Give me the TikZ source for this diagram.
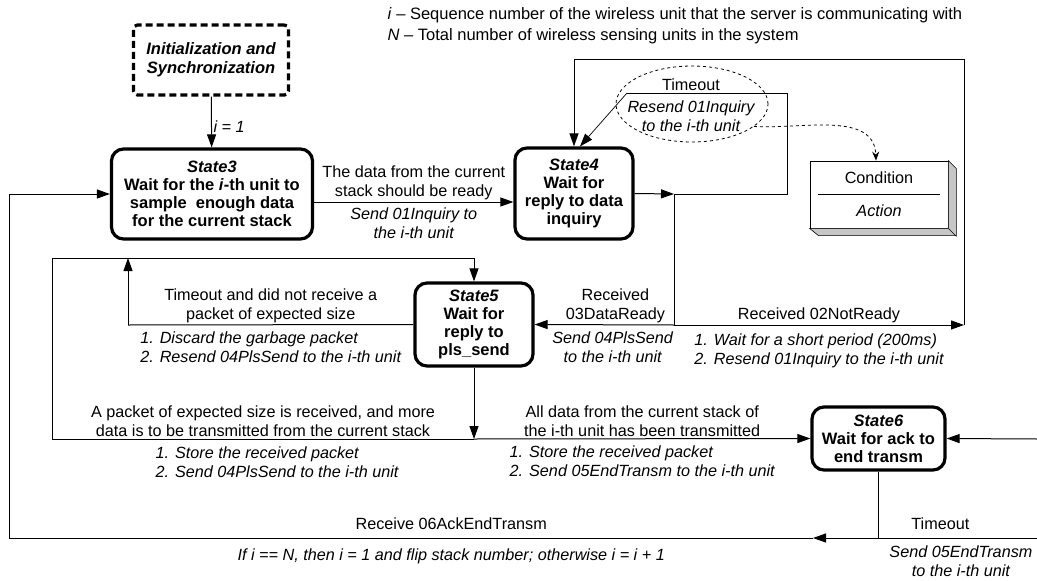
\documentclass[tikz,border=0pt]{standalone}
\usepackage{fontspec}
\setmainfont{Liberation Sans}
\usepackage{tikz}
\usetikzlibrary{arrows.meta,shapes.geometric}

\tikzset{
  state/.style={draw, line width=3.2pt, rounded corners=12pt, align=center, inner sep=1pt,
    font=\bfseries\fontsize{16.5}{18}\selectfont},
  txt/.style={align=center, inner sep=1.5pt, font=\fontsize{16.2}{19}\selectfont},
  act/.style={txt, font=\itshape\fontsize{16.2}{19}\selectfont},
  wire/.style={line width=1pt, black},
  tip/.style={-{Triangle[length=13pt,width=9pt]}},
}

\begin{document}
\begin{tikzpicture}[x=1pt, y=-1pt]
    \useasboundingbox (0,0) rectangle (1037,581);

    % Notation
    \node[txt, anchor=west, align=left, font=\fontsize{16.5}{21}\selectfont] (note) at (386,25.5)
      {\textit{i} \textendash{} Sequence number of the wireless unit that the server is communicating with\\
       \textit{N} \textendash{} Total number of wireless sensing units in the system};

    % States
    \node[state, dash pattern=on 7pt off 4pt, rounded corners=4pt, minimum width=155pt, minimum height=70pt,
      font=\bfseries\itshape\fontsize{16.5}{19}\selectfont] (init) at (211,60) {Initialization and\\Synchronization};
    \node[state, minimum width=201pt, minimum height=90pt] (s3) at (212,194)
      {\textit{State3}\\Wait for the \textit{i}-th unit to\\sample\ \ enough data\\for the current stack};
    \node[state, minimum width=118pt, minimum height=91pt] (s4) at (574,193.5)
      {\textit{State4}\\Wait for\\reply to data\\inquiry};
    \node[state, minimum width=118pt, minimum height=83pt] (s5) at (474,324.5)
      {\textit{State5}\\Wait for\\reply to\\pls\_send};
    \node[state, minimum width=133pt, minimum height=63pt] (s6) at (878.5,438.5)
      {\textit{State6}\\Wait for ack to\\end transm};

    % Legend
    \node[draw, fill=white, line width=0.8pt, minimum width=138pt, minimum height=67pt] (leg) at (879,194.5) {};
    \filldraw[fill=gray!45, line width=0.6pt] (leg.north east) -- ++(8,8) -- ++(0,67) -- ++(-138,0)
      -- (leg.south west) -- (leg.south east) -- cycle;
    \draw[line width=0.6pt] (leg.south east) -- ++(8,8);
    \node[txt] (cond) at (879,178) {Condition};
    \draw[line width=0.8pt] ([xshift=8pt]leg.west) -- ([xshift=-8pt]leg.east);
    \node[act] (actn) at (879,211) {Action};

    % Start
    \draw[wire, tip] (init) -- (s3) node[act, pos=0.6, right] {i = 1};

    % State3 to State4
    \draw[wire, tip] ([yshift=-8pt]s3.east) -- ([yshift=-8pt]s3.east -| s4.west)
      node[txt, midway, above] {The data from the current\\stack should be ready}
      node[act, midway, below=4pt] {Send 01Inquiry to\\the i-th unit};

    % State4 timeout
    \coordinate (j4) at (674,194);
    \coordinate (t4a) at (787,194);
    \coordinate (t4b) at (787,93);
    \coordinate (t4c) at (627,93);
    \node[draw, dashed, ellipse, line width=0.8pt, minimum width=152pt, minimum height=76pt] (ell) at (692,104) {};
    \draw[wire, tip] (s4.east) -- (j4);
    \draw[wire] (j4) -- (t4a) -- (t4b) -- (t4c)
      node[txt, pos=0.6, above] {Timeout}
      node[act, pos=0.6, below=6pt] {Resend 01Inquiry\\to the i-th unit};
    \draw[line width=0.7pt, tip] (t4c) -- ([xshift=6pt]s4.north);
    \draw[dashed, line width=0.8pt, -{Stealth[length=9pt,width=7pt]}] (ell.-20) to[out=-3, in=92] ([xshift=-3pt]leg.north);

    % State4 replies
    \coordinate (j5) at (674,325);
    \coordinate (r5) at (964,325);
    \coordinate (t5a) at (964,59);
    \coordinate (t5b) at (574,59);
    \draw[wire] (j4) -- (j5);
    \draw[wire, tip] (j5) -- (s5.east)
      node[txt, pos=0.42, above] {Received\\03DataReady}
      node[act, pos=0.44, below=5pt] {Send 04PlsSend\\to the i-th unit};
    \draw[wire, tip] (j5) -- (r5)
      node[txt, midway, above] {Received 02NotReady}
      node[act, midway, below=7pt, align=left] {1. Wait for a short period (200ms)\\2. Resend 01Inquiry to the i-th unit};
    \draw[wire, tip] (r5) -- (t5a) -- (t5b) -- (s4.north);

    % State5 loops
    \coordinate (tl) at (52,258);
    \coordinate (tr) at (474,258);
    \coordinate (bl) at (52,439);
    \coordinate (j6) at (474,439);
    \coordinate (m5) at (128,325);
    \coordinate (m5t) at (128,258);
    \draw[wire, tip] (bl) -- (tl) -- (tr) -- (s5.north);
    \draw[wire] (s5.west) -- (m5)
      node[txt, midway, above] {Timeout and did not receive a\\packet of expected size}
      node[act, midway, below=5pt, align=left] {1. Discard the garbage packet\\2. Resend 04PlsSend to the i-th unit};
    \draw[wire, tip] (m5) -- (m5t);
    \draw[wire, tip] (s5.south) -- (j6);
    \draw[wire] (j6) -- (bl)
      node[txt, midway, above] {A packet of expected size is received, and more\\data is to be transmitted from the current stack}
      node[act, midway, below=6pt, align=left, xshift=14pt] {1. Store the received packet\\2. Send 04PlsSend to the i-th unit};
    \draw[wire, tip] (j6) -- (s6.west)
      node[txt, midway, above] {All data from the current stack of\\the i-th unit has been transmitted}
      node[act, midway, below=5pt, align=left] {1. Store the received packet\\2. Send 05EndTransm to the i-th unit};

    % State6 loops
    \coordinate (j7) at (878.5,538);
    \coordinate (a7) at (813,538);
    \coordinate (bl7) at (9,538);
    \coordinate (tl7) at (9,194);
    \coordinate (re7) at (1037,538);
    \coordinate (re6) at (1037,439);
    \draw[wire, tip] (s6.south) -- (j7) -- (a7);
    \draw[wire, tip] (a7) -- (bl7)
      node[txt, pos=0.45, above=6pt] {Receive 06AckEndTransm}
      node[act, pos=0.45, below=9pt] {If i == N, then i = 1 and flip stack number; otherwise i = i + 1}
      -- (tl7) -- (s3.west);
    \draw[wire] (j7) -- (re7)
      node[txt, pos=0.39, above=6pt] {Timeout}
      node[act, pos=0.52, below=6pt] {Send 05EndTransm\\to the i-th unit};
    \draw[wire, tip] (re6) -- (s6.east);
\end{tikzpicture}
\end{document}
